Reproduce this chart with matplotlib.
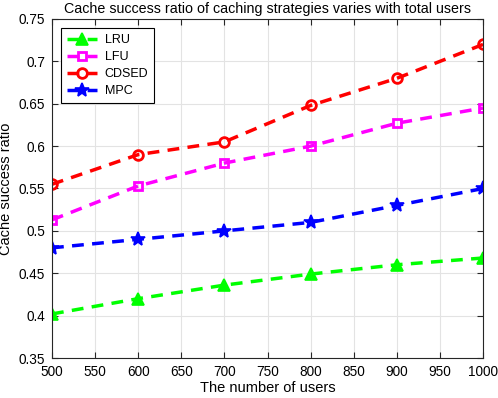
import matplotlib
matplotlib.use("Agg")
import matplotlib.pyplot as plt

users = [500, 600, 700, 800, 900, 1000]
lru = [0.402, 0.420, 0.436, 0.449, 0.460, 0.468]
lfu = [0.513, 0.553, 0.580, 0.600, 0.627, 0.645]
cdsed = [0.555, 0.590, 0.605, 0.648, 0.680, 0.720]
mpc = [0.480, 0.490, 0.500, 0.510, 0.530, 0.550]

plt.rcParams['font.family'] = ['Arial', 'Liberation Sans', 'DejaVu Sans']

fig = plt.figure(figsize=(4.98, 3.98), dpi=100)
ax = fig.add_axes([52/498, 1-358/398, (483-52)/498, (358-19)/398])

dash = (3.4, 2.4)
ax.plot(users, lru, color='#00ff00', lw=2.5, marker='^', ms=8, mfc='#00ff00', mec='#00ff00', mew=1.2, dashes=dash, label='LRU')
ax.plot(users, lfu, color='#ff00ff', lw=2.5, marker='s', ms=6, mfc='none', mec='#ff00ff', mew=2, dashes=dash, label='LFU')
ax.plot(users, cdsed, color='#ff0000', lw=2.5, marker='o', ms=7, mfc='none', mec='#ff0000', mew=2, dashes=dash, label='CDSED')
ax.plot(users, mpc, color='#0000ff', lw=2.5, marker='*', ms=10, mfc='#0000ff', mec='#0000ff', mew=1.2, dashes=dash, label='MPC')

ax.set_xlim(500, 1000)
ax.set_ylim(0.35, 0.75)
ax.set_xticks(range(500, 1001, 50))
ax.set_yticks([0.35, 0.4, 0.45, 0.5, 0.55, 0.6, 0.65, 0.7, 0.75])
ax.set_yticklabels(['0.35', '0.4', '0.45', '0.5', '0.55', '0.6', '0.65', '0.7', '0.75'])
ax.grid(True, color='#e3e3e3', lw=0.8)
ax.set_axisbelow(True)
ax.tick_params(direction='in', top=True, right=True, labelsize=9.8, length=4, color='#262626')
ax.tick_params(axis='x', pad=5)
ax.tick_params(axis='y', pad=5)
for s in ax.spines.values():
    s.set_color('#262626')
    s.set_linewidth(0.8)

ax.set_xlabel('The number of users', fontsize=10.5, labelpad=1.5)
ax.set_ylabel('Cache success ratio', fontsize=10.5, labelpad=4)
ax.set_title('Cache success ratio of caching strategies varies with total users', fontsize=10.3, pad=4)

leg = ax.legend(loc='upper left', fancybox=False, edgecolor='black', fontsize=9,
                handlelength=2.4, handletextpad=0.6, labelspacing=0.4,
                borderaxespad=0.7, borderpad=0.5, framealpha=1)
leg.get_frame().set_linewidth(0.8)

fig.savefig('out.png', dpi=100)
